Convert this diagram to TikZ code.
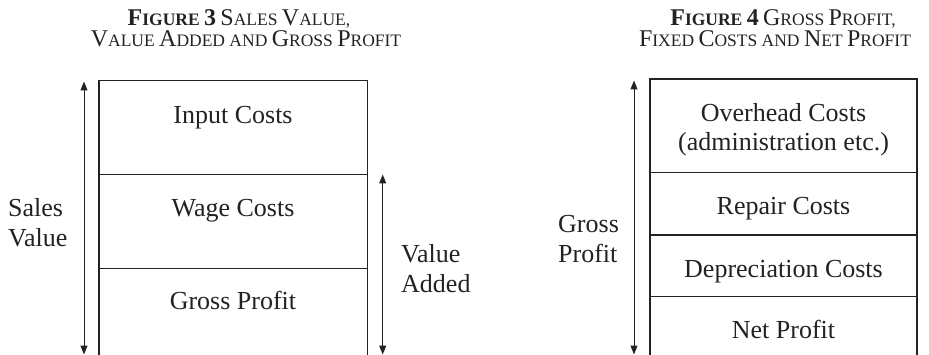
\documentclass[tikz,border=0pt]{standalone}
\usepackage{fontspec}
\setmainfont{Liberation Serif}
\usetikzlibrary{arrows.meta}
\definecolor{ink}{HTML}{222222}
\newcommand\BigC[1]{{\fontsize{24}{26}\selectfont #1}}
\newcommand\SmC[1]{{\fontsize{17.5}{20}\selectfont #1}}
\begin{document}
\begin{tikzpicture}[x=1pt,y=-1pt,
  lbl/.style={font=\fontsize{26}{30}\selectfont, inner sep=0pt, anchor=base, text=ink},
  side/.style={font=\fontsize{26}{30}\selectfont, inner sep=0pt, anchor=base west, align=left, text=ink},
  ttl/.style={font=\fontsize{17.5}{20}\selectfont, inner sep=0pt, anchor=base, text=ink},
  boxline/.style={line width=1.4pt, draw=ink},
  dim/.style={line width=1pt, draw=ink, {Triangle[length=9pt,width=7pt]}-{Triangle[length=9pt,width=7pt]}}]
\useasboundingbox (0,0) rectangle (929,355);

% ---------- Figure 3 ----------
\node[ttl] (t3a) at (239,25.7) {\textbf{\BigC{F}\SmC{IGURE} \BigC{3}} \BigC{S}\SmC{ALES} \BigC{V}\SmC{ALUE},};
\node[ttl] (t3b) at (246,46.7) {\BigC{V}\SmC{ALUE} \BigC{A}\SmC{DDED} \SmC{AND} \BigC{G}\SmC{ROSS} \BigC{P}\SmC{ROFIT}};

\draw[boxline] (99,355) |- (367.5,80.7) -- (367.5,355);
\draw[boxline] (99,174.3) -- (367.5,174.3);
\draw[boxline] (99,268.3) -- (367.5,268.3);

\node[lbl] (input) at (233,123.3) {Input Costs};
\node[lbl] (wage)  at (233,216.7) {Wage Costs};
\node[lbl] (gp3)   at (233,310)   {Gross Profit};

\coordinate (sv1) at (84,81.5);
\coordinate (sv2) at (84,354.5);
\draw[dim] (sv2) -- (sv1);
\node[side] (salesv) at (8,246.7) {Sales\\Value};

\coordinate (va1) at (382.7,174.5);
\coordinate (va2) at (382.7,354.5);
\draw[dim] (va2) -- (va1);
\node[side] (valadd) at (401,293) {Value\\Added};

% ---------- Figure 4 ----------
\node[ttl] (t4a) at (783,25.7) {\textbf{\BigC{F}\SmC{IGURE} \BigC{4}} \BigC{G}\SmC{ROSS} \BigC{P}\SmC{ROFIT},};
\node[ttl] (t4b) at (775,46.7) {\BigC{F}\SmC{IXED} \BigC{C}\SmC{OSTS} \SmC{AND} \BigC{N}\SmC{ET} \BigC{P}\SmC{ROFIT}};

\draw[boxline] (650,355) |- (917,79) -- (917,355);
\draw[boxline] (650,172.7) -- (917,172.7);
\draw[boxline] (650,235) -- (917,235);
\draw[boxline] (650,296.7) -- (917,296.7);

\node[lbl] (over)  at (783.5,121.7) {Overhead Costs};
\node[lbl] (admin) at (783.5,150.7) {(administration etc.)};
\node[lbl] (rep)   at (783.5,215)   {Repair Costs};
\node[lbl] (dep)   at (783.5,277.3) {Depreciation Costs};
\node[lbl] (net)   at (783.5,338.3) {Net Profit};

\coordinate (gp1) at (634,80.5);
\coordinate (gp2) at (634,354.5);
\draw[dim] (gp2) -- (gp1);
\node[side] (gpl) at (558,262.7) {Gross\\Profit};
\end{tikzpicture}
\end{document}
